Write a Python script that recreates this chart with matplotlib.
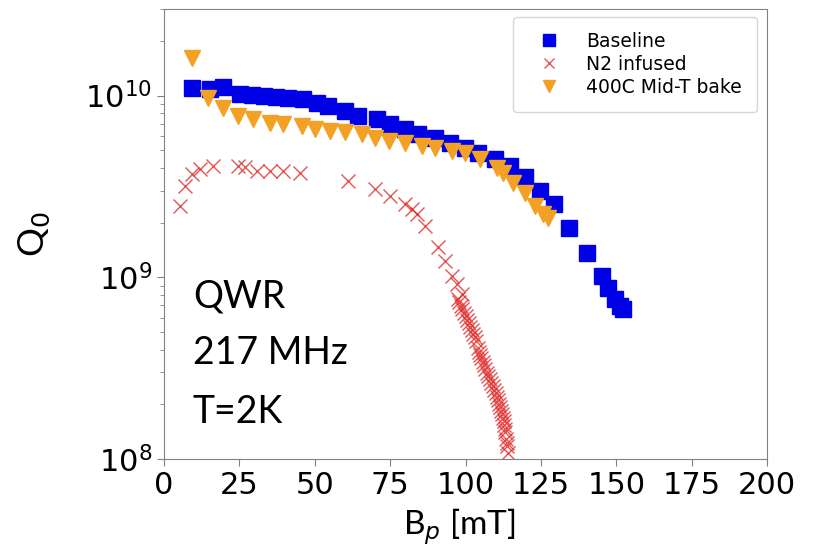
import matplotlib

matplotlib.use("Agg")
import matplotlib.pyplot as plt

# Q0 vs peak field, QWR 217 MHz at 2 K
baseline_bp = [9.4, 15.3, 19.7, 25.2, 29.2, 33.2, 37.1, 41.1, 46.1, 50.7, 54.4, 60.0, 64.3,
               70.6, 75.0, 79.9, 84.2, 89.9, 94.9, 99.8, 104.1, 109.8, 114.8, 119.7, 124.7,
               129.4, 134.3, 140.3, 145.3, 147.3, 149.6, 151.2, 152.2]
baseline_q0 = [1.10e10, 1.09e10, 1.12e10, 1.025e10, 1.014e10, 1.00e10, 9.86e9, 9.75e9, 9.62e9,
               9.14e9, 8.81e9, 8.26e9, 7.76e9, 7.46e9, 7.02e9, 6.58e9, 6.18e9, 5.87e9, 5.51e9,
               5.16e9, 4.85e9, 4.50e9, 4.11e9, 3.58e9, 3.00e9, 2.54e9, 1.87e9, 1.36e9,
               1.02e9, 8.75e8, 7.62e8, 6.97e8, 6.70e8]

n2_bp = [5.3, 7.0, 9.3, 11.9, 16.3, 24.5, 26.9, 30.8, 35.2, 39.5, 45.1, 61.0, 70.0, 75.0, 79.9,
         82.3, 83.9, 86.6, 90.9, 93.2, 95.5, 97.2, 97.5, 98.0, 98.5, 98.8, 99.0, 99.5, 100.0,
         100.5, 101.0, 101.5, 102.0, 102.5, 103.0, 103.5, 104.1, 104.4, 104.8, 105.3, 105.8,
         106.1, 106.5, 107.0, 107.5, 108.0, 108.5, 109.0, 109.5, 110.0, 110.4, 110.8, 111.1,
         111.5, 111.8, 112.1, 112.4, 112.6, 112.8, 113.0, 113.1, 113.4, 113.6, 113.8, 114.1]
n2_q0 = [2.48e9, 3.19e9, 3.72e9, 3.96e9, 4.11e9, 4.11e9, 4.05e9, 3.86e9, 3.86e9, 3.86e9, 3.77e9,
         3.40e9, 3.08e9, 2.81e9, 2.54e9, 2.38e9, 2.24e9, 1.92e9, 1.46e9, 1.23e9, 1.02e9, 9.2e8,
         7.62e8, 7.3e8, 6.97e8, 8.1e8, 6.7e8, 6.37e8, 6.1e8, 5.83e8, 5.6e8, 5.33e8, 5.1e8,
         4.89e8, 4.67e8, 4.47e8, 4.09e8, 3.9e8, 3.74e8, 3.58e8, 3.42e8, 3.27e8, 3.13e8, 2.99e8,
         2.86e8, 2.74e8, 2.62e8, 2.51e8, 2.40e8, 2.30e8, 2.20e8, 2.10e8, 2.01e8, 1.92e8, 1.84e8,
         1.76e8, 1.68e8, 1.61e8, 1.54e8, 1.47e8, 1.41e8, 1.29e8, 1.23e8, 1.18e8, 1.08e8]

bake_bp = [9.3, 14.6, 19.6, 24.5, 29.5, 35.2, 39.5, 45.8, 50.1, 55.1, 60.0, 65.7, 70.0, 74.6,
           79.9, 85.6, 89.9, 95.5, 99.8, 104.8, 110.4, 112.4, 115.8, 119.7, 123.0, 125.7, 127.4]
bake_q0 = [1.62e10, 9.75e9, 8.59e9, 7.76e9, 7.46e9, 7.10e9, 7.02e9, 6.84e9, 6.58e9, 6.41e9,
           6.34e9, 6.18e9, 5.87e9, 5.65e9, 5.51e9, 5.31e9, 5.16e9, 4.98e9, 4.85e9, 4.50e9,
           4.01e9, 3.77e9, 3.32e9, 2.92e9, 2.48e9, 2.24e9, 2.13e9]

x_ticks = [0, 25, 50, 75, 100, 125, 150, 175, 200]

fig = plt.figure(figsize=(8.2, 5.59), dpi=100)
ax = fig.add_axes([0.2, 0.179, 0.7354, 0.805])

ax.plot(baseline_bp, baseline_q0, "s", color="#0000e6", ms=11.5, mec="#0000e6", label="Baseline")
ax.plot(n2_bp, n2_q0, "x", color="#e02a2a", ms=10, mew=1.0, alpha=0.8, label="N2 infused")
ax.plot(bake_bp, bake_q0, "v", color="#f2a124", ms=11, mec="#f2a124", label="400C Mid-T bake")

ax.set_yscale("log")
ax.set_xlim(0, 200)
ax.set_ylim(1e8, 3e10)
ax.set_xticks(x_ticks)

for side in ax.spines.values():
    side.set_color("#808080")
ax.tick_params(which="both", colors="#808080", labelcolor="black", direction="out")
ax.tick_params(which="major", labelsize=22, length=5)
ax.tick_params(which="minor", length=3)

ax.set_xlabel(r"B$_p$ [mT]", fontsize=24, family=["Lato", "DejaVu Sans"])
ax.set_ylabel(r"Q$_0$", fontsize=26, family=["Lato", "DejaVu Sans"])
ax.xaxis.set_label_coords(0.49, -0.105)
ax.yaxis.set_label_coords(-0.185, 0.5)

ax.legend(loc="upper right", fontsize=13.5, borderpad=0.8, handletextpad=0.9,
          borderaxespad=0, labelspacing=0.2, markerscale=0.75, handlelength=2.2,
          bbox_to_anchor=(0.983, 0.982))

for txt, yy in [("QWR", 0.36), ("217 MHz", 0.235), ("T=2K", 0.105)]:
    ax.text(0.048, yy, txt, transform=ax.transAxes, fontsize=27, family=["Lato", "DejaVu Sans"],
            va="center", ha="left")

fig.savefig("out.png", dpi=100)
